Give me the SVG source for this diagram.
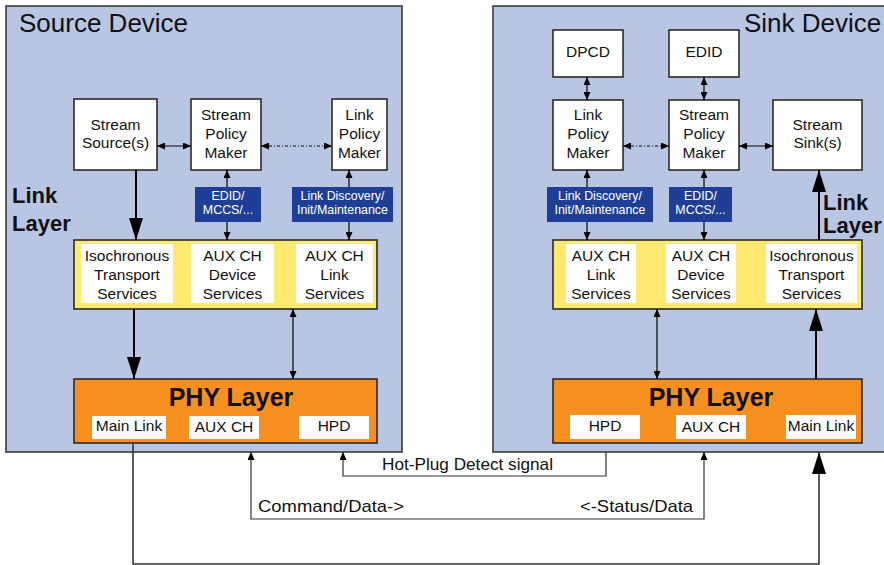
<svg xmlns="http://www.w3.org/2000/svg" width="884" height="565" viewBox="0 0 884 565">
  <defs>
    <marker id="ah" markerUnits="userSpaceOnUse" markerWidth="8" markerHeight="7" refX="8" refY="3.5" orient="auto-start-reverse">
      <path d="M0,0 L8,3.5 L0,7 z" fill="#000"/>
    </marker>
    <marker id="big" markerUnits="userSpaceOnUse" markerWidth="22" markerHeight="14" refX="22" refY="7" orient="auto-start-reverse">
      <path d="M0,0 L22,7 L0,14 z" fill="#000"/>
    </marker>
    <style>
      .dev { fill: #b8c6e4; stroke: #3d3a36; stroke-width: 1.6; }
      .box { fill: #fff; stroke: #2e2a26; stroke-width: 1.6; }
      .wb { fill: #fff; }
      .yel { fill: #ffe96e; stroke: #2e2a26; stroke-width: 1.6; }
      .phy { fill: #f7901e; stroke: #2e2a26; stroke-width: 1.6; }
      .blue { fill: #1e3f95; }
      text { font-family: "Liberation Sans", Arial, sans-serif; fill: #111; }
      .t { font-size: 15.5px; text-anchor: middle; }
      .title { font-size: 26px; }
      .ll { font-size: 22px; font-weight: bold; }
      .phyt { font-size: 25px; font-weight: bold; text-anchor: middle; }
      .bt { font-size: 12.4px; fill: #fff; text-anchor: middle; }
      .lbl { font-size: 17px; }
      .c { fill: none; stroke: #000; stroke-width: 1.2; }
      .thick { fill: none; stroke: #000; stroke-width: 2; }
      .ext { fill: none; stroke: #333; stroke-width: 1.2; }
      .dash { fill: none; stroke: #000; stroke-width: 1.2; stroke-dasharray: 3 2 1 2; }
    </style>
  </defs>

  <!-- device enclosures -->
  <g id="source-device">
    <rect class="dev" x="6" y="6" width="396" height="446"/>
    <text class="title" x="19" y="32">Source Device</text>
    <text class="ll" x="12" y="203">Link</text>
    <text class="ll" x="12" y="231">Layer</text>
  </g>
  <g id="sink-device">
    <rect class="dev" x="493" y="6" width="400" height="446"/>
    <text class="title" x="744" y="32">Sink Device</text>
    <text class="ll" x="823" y="210">Link</text>
    <text class="ll" x="823" y="233">Layer</text>
  </g>

  <!-- source nodes -->
  <g id="src-stream-source">
    <rect class="box" x="74" y="99" width="83" height="71"/>
    <text class="t" x="115.5" y="130">Stream</text>
    <text class="t" x="115.5" y="148">Source(s)</text>
  </g>
  <g id="src-stream-policy">
    <rect class="box" x="191" y="99" width="70" height="71"/>
    <text class="t" x="226" y="120">Stream</text>
    <text class="t" x="226" y="139">Policy</text>
    <text class="t" x="226" y="158">Maker</text>
  </g>
  <g id="src-link-policy">
    <rect class="box" x="332" y="99" width="55" height="71"/>
    <text class="t" x="359.5" y="120">Link</text>
    <text class="t" x="359.5" y="139">Policy</text>
    <text class="t" x="359.5" y="158">Maker</text>
  </g>
  <g id="src-edid-tag">
    <rect class="blue" x="195" y="187" width="66" height="35"/>
    <text class="bt" x="228" y="200">EDID/</text>
    <text class="bt" x="228" y="214">MCCS/...</text>
  </g>
  <g id="src-link-tag">
    <rect class="blue" x="292" y="187" width="101" height="35"/>
    <text class="bt" x="342.5" y="200">Link Discovery/</text>
    <text class="bt" x="342.5" y="214">Init/Maintenance</text>
  </g>
  <g id="src-link-services">
    <rect class="yel" x="74" y="240" width="303" height="69"/>
    <rect class="wb" x="81" y="244" width="92" height="59"/>
    <rect class="wb" x="191" y="244" width="83" height="59"/>
    <rect class="wb" x="296" y="244" width="77" height="59"/>
    <text class="t" x="127" y="261">Isochronous</text>
    <text class="t" x="127" y="280">Transport</text>
    <text class="t" x="127" y="299">Services</text>
    <text class="t" x="232.5" y="261">AUX CH</text>
    <text class="t" x="232.5" y="280">Device</text>
    <text class="t" x="232.5" y="299">Services</text>
    <text class="t" x="334.5" y="261">AUX CH</text>
    <text class="t" x="334.5" y="280">Link</text>
    <text class="t" x="334.5" y="299">Services</text>
  </g>
  <g id="src-phy">
    <rect class="phy" x="74" y="379" width="303" height="64"/>
    <text class="phyt" x="231" y="406">PHY Layer</text>
    <rect class="wb" x="92" y="416" width="74" height="23"/>
    <rect class="wb" x="189" y="416" width="70" height="23"/>
    <rect class="wb" x="299" y="416" width="70" height="23"/>
    <text class="t" x="129" y="431">Main Link</text>
    <text class="t" x="224" y="432">AUX CH</text>
    <text class="t" x="334" y="431">HPD</text>
  </g>

  <!-- sink nodes -->
  <g id="snk-dpcd">
    <rect class="box" x="553" y="30" width="70" height="47"/>
    <text class="t" x="588" y="57">DPCD</text>
  </g>
  <g id="snk-edid">
    <rect class="box" x="669" y="30" width="70" height="47"/>
    <text class="t" x="704" y="57">EDID</text>
  </g>
  <g id="snk-link-policy">
    <rect class="box" x="553" y="100" width="70" height="70"/>
    <text class="t" x="588" y="120">Link</text>
    <text class="t" x="588" y="139">Policy</text>
    <text class="t" x="588" y="158">Maker</text>
  </g>
  <g id="snk-stream-policy">
    <rect class="box" x="669" y="100" width="70" height="70"/>
    <text class="t" x="704" y="120">Stream</text>
    <text class="t" x="704" y="139">Policy</text>
    <text class="t" x="704" y="158">Maker</text>
  </g>
  <g id="snk-stream-sink">
    <rect class="box" x="773" y="100" width="89" height="70"/>
    <text class="t" x="817.5" y="130">Stream</text>
    <text class="t" x="817.5" y="148">Sink(s)</text>
  </g>
  <g id="snk-link-tag">
    <rect class="blue" x="547" y="187" width="106" height="35"/>
    <text class="bt" x="600" y="200">Link Discovery/</text>
    <text class="bt" x="600" y="214">Init/Maintenance</text>
  </g>
  <g id="snk-edid-tag">
    <rect class="blue" x="669" y="187" width="63" height="35"/>
    <text class="bt" x="700.5" y="200">EDID/</text>
    <text class="bt" x="700.5" y="214">MCCS/...</text>
  </g>
  <g id="snk-link-services">
    <rect class="yel" x="553" y="240" width="309" height="69"/>
    <rect class="wb" x="566" y="244" width="70" height="59"/>
    <rect class="wb" x="666" y="244" width="70" height="59"/>
    <rect class="wb" x="766" y="244" width="91" height="59"/>
    <text class="t" x="601" y="261">AUX CH</text>
    <text class="t" x="601" y="280">Link</text>
    <text class="t" x="601" y="299">Services</text>
    <text class="t" x="701" y="261">AUX CH</text>
    <text class="t" x="701" y="280">Device</text>
    <text class="t" x="701" y="299">Services</text>
    <text class="t" x="811.5" y="261">Isochronous</text>
    <text class="t" x="811.5" y="280">Transport</text>
    <text class="t" x="811.5" y="299">Services</text>
  </g>
  <g id="snk-phy">
    <rect class="phy" x="553" y="379" width="309" height="64"/>
    <text class="phyt" x="711" y="406">PHY Layer</text>
    <rect class="wb" x="570" y="415" width="70" height="24"/>
    <rect class="wb" x="676" y="415" width="70" height="24"/>
    <rect class="wb" x="786" y="415" width="70" height="24"/>
    <text class="t" x="605" y="431">HPD</text>
    <text class="t" x="711" y="432">AUX CH</text>
    <text class="t" x="821" y="431">Main Link</text>
  </g>

  <!-- connectors -->
  <g id="connectors">
    <!-- source side -->
    <line class="c" x1="157" y1="146" x2="191" y2="146" marker-start="url(#ah)" marker-end="url(#ah)"/>
    <line class="dash" x1="261" y1="146" x2="332" y2="146" marker-start="url(#ah)" marker-end="url(#ah)"/>
    <line class="c" x1="227" y1="187" x2="227" y2="170" marker-end="url(#ah)"/>
    <line class="c" x1="227" y1="222" x2="227" y2="240" marker-end="url(#ah)"/>
    <line class="c" x1="349" y1="187" x2="349" y2="170" marker-end="url(#ah)"/>
    <line class="c" x1="349" y1="222" x2="349" y2="240" marker-end="url(#ah)"/>
    <line class="thick" x1="136" y1="170" x2="136" y2="240" marker-end="url(#big)"/>
    <line class="thick" x1="134" y1="309" x2="134" y2="379" marker-end="url(#big)"/>
    <line class="c" x1="293" y1="309" x2="293" y2="379" marker-start="url(#ah)" marker-end="url(#ah)"/>

    <!-- sink side -->
    <line class="c" x1="587" y1="77" x2="587" y2="100" marker-start="url(#ah)" marker-end="url(#ah)"/>
    <line class="c" x1="704" y1="77" x2="704" y2="100" marker-start="url(#ah)" marker-end="url(#ah)"/>
    <line class="dash" x1="623" y1="146" x2="669" y2="146" marker-start="url(#ah)" marker-end="url(#ah)"/>
    <line class="c" x1="739" y1="146" x2="773" y2="146" marker-start="url(#ah)" marker-end="url(#ah)"/>
    <line class="c" x1="587" y1="187" x2="587" y2="170" marker-end="url(#ah)"/>
    <line class="c" x1="587" y1="222" x2="587" y2="240" marker-end="url(#ah)"/>
    <line class="c" x1="704" y1="187" x2="704" y2="170" marker-end="url(#ah)"/>
    <line class="c" x1="704" y1="222" x2="704" y2="240" marker-end="url(#ah)"/>
    <line class="thick" x1="819" y1="240" x2="819" y2="170" marker-end="url(#big)"/>
    <line class="thick" x1="816" y1="379" x2="816" y2="309" marker-end="url(#big)"/>
    <line class="c" x1="657" y1="309" x2="657" y2="379" marker-start="url(#ah)" marker-end="url(#ah)"/>

    <!-- links between the devices -->
    <polyline class="ext" points="606,452 606,476 343,476 343,452" marker-end="url(#ah)"/>
    <polyline class="ext" points="251,452 251,519 704,519 704,452" marker-start="url(#ah)" marker-end="url(#ah)"/>
    <polyline class="ext" style="stroke-width:1.6" points="133,443 133,564 819,564 819,452" marker-end="url(#big)"/>
    <text class="lbl" x="382" y="470" textLength="171" lengthAdjust="spacingAndGlyphs">Hot-Plug Detect signal</text>
    <text class="lbl" x="258" y="512" textLength="146" lengthAdjust="spacingAndGlyphs">Command/Data-&gt;</text>
    <text class="lbl" x="580" y="512" textLength="113" lengthAdjust="spacingAndGlyphs">&lt;-Status/Data</text>
  </g>
</svg>
